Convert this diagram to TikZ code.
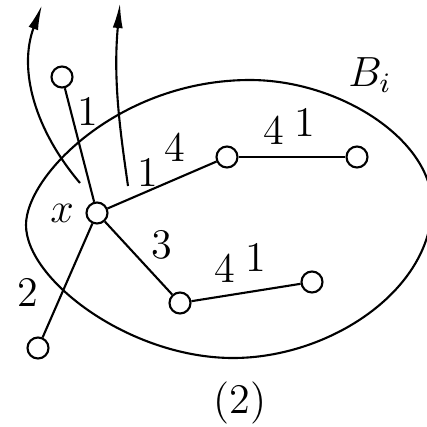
\documentclass[tikz,border=0pt]{standalone}
\usetikzlibrary{arrows.meta}

\begin{document}
\begin{tikzpicture}[x=0.01cm, y=-0.01cm, line width=0.6pt,
    vert/.style={circle, draw, fill=white, inner sep=0pt, minimum size=0.21cm},
    lab/.style={font=\fontsize{12}{14}\selectfont, inner sep=0pt},
    outarrow/.style={-{Latex[length=0.25cm, width=0.1cm]}}]
    \useasboundingbox (0,0) rectangle (427,427);
    \clip (0,0) rectangle (427,427);

    % region B_i
    \draw (26,225) .. controls (26,175) and (120,80) .. (250,80)
        .. controls (340,80) and (432,140) .. (432,205)
        .. controls (432,290) and (330,358) .. (233,358)
        .. controls (130,358) and (26,280) .. (26,225) -- cycle;

    % arrows leaving the region
    \coordinate (s1) at (80,183);
    \coordinate (t1) at (42,5);
    \coordinate (s2) at (128,186);
    \coordinate (t2) at (120,3);
    \draw[outarrow] (s1) .. controls (35,130) and (18,70) .. (t1);
    \draw[outarrow] (s2) .. controls (120,130) and (113,80) .. (t2);

    % vertices
    \node[vert] (x) at (97,213) {};
    \node[vert] (na) at (62,77) {};
    \node[vert] (nb) at (38,348) {};
    \node[vert] (nc) at (227,157) {};
    \node[vert] (nd) at (357,157) {};
    \node[vert] (ne) at (180,303) {};
    \node[vert] (nf) at (312,282) {};

    % edges
    \draw (na) -- (x);
    \draw (nb) -- (x);
    \draw (x) -- (nc);
    \draw (nc) -- (nd);
    \draw (x) -- (ne);
    \draw (ne) -- (nf);

    % labels
    \node[lab] (lx) at (62,213) {$x$};
    \node[lab] (l1) at (88,111) {1};
    \node[lab] (l2) at (148,172) {1};
    \node[lab] (l3) at (175,147) {4};
    \node[lab] (l4) at (274,130) {4};
    \node[lab] (l5) at (305,122) {1};
    \node[lab] (l6) at (162,245) {3};
    \node[lab] (l7) at (225,268) {4};
    \node[lab] (l8) at (256,257) {1};
    \node[lab] (l9) at (28,292) {2};
    \node[lab] (lB) at (370,75) {$B_i$};
    \node[lab] (cap) at (240,403) {(2)};
\end{tikzpicture}
\end{document}
